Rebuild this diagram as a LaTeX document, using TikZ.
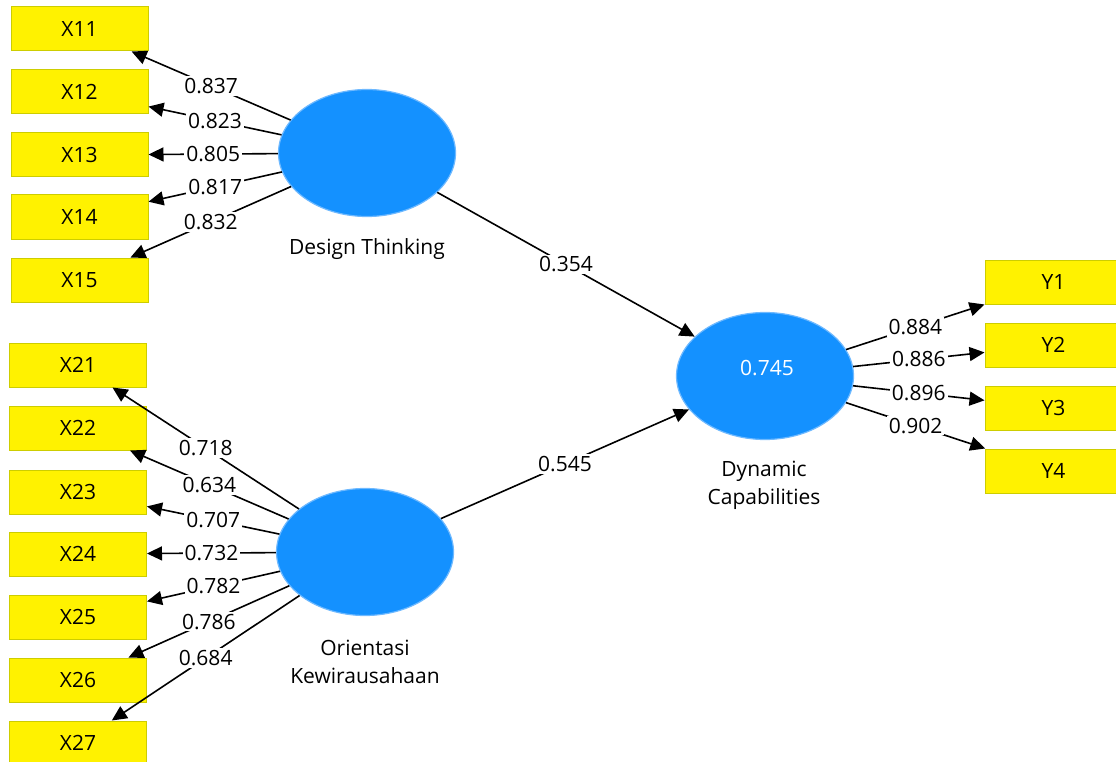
\documentclass[tikz,border=0pt]{standalone}
\usepackage{fontspec}
\setmainfont{Open Sans}
\usetikzlibrary{shapes.geometric,arrows.meta}
\definecolor{latblue}{RGB}{20,145,255}
\definecolor{latedge}{RGB}{110,185,255}
\definecolor{boxedge}{RGB}{205,205,0}
\begin{document}
\begin{tikzpicture}[x=1pt,y=-1pt,
  every node/.style={font=\fontsize{21}{28}\selectfont},
  ind/.style={draw=boxedge, fill=yellow, line width=1pt, minimum width=137pt, minimum height=44pt, inner sep=0pt},
  lat/.style={ellipse, fill=latblue, draw=latedge, line width=1.2pt, minimum width=177pt, minimum height=127pt, inner sep=0pt},
  con/.style={line width=1.6pt, -{Triangle[length=15pt,width=14pt]}},
  wt/.style={fill=white, inner sep=2pt, pos=0.5},
  lbl/.style={align=center, text=black}]
\useasboundingbox (0,0) rectangle (1116,762);
\clip (0,0) rectangle (1116,762);
% latent variables
\node[lat] (dt) at (367,153) {};
\node[lat] (ok) at (365,552) {};
\node[lat] (dc) at (765,376) {};
\node[text=white] (dcv) at (767,368) {0.745};
\node[lbl] (dtl) at (367,249) {Design Thinking};
\node[lbl] (okl) at (365,662) {Orientasi\\Kewirausahaan};
\node[lbl] (dcl) at (764,485) {Dynamic\\Capabilities};
% indicators
\node[ind] (x11) at (79.5,29) {X11};
\node[ind] (x12) at (79.5,92) {X12};
\node[ind] (x13) at (79.5,155) {X13};
\node[ind] (x14) at (79.5,217) {X14};
\node[ind] (x15) at (79.5,280) {X15};
\node[ind] (x21) at (78,365) {X21};
\node[ind] (x22) at (78,428) {X22};
\node[ind] (x23) at (78,492) {X23};
\node[ind] (x24) at (78,554) {X24};
\node[ind] (x25) at (78,617) {X25};
\node[ind] (x26) at (78,680) {X26};
\node[ind] (x27) at (78,743) {X27};
\node[ind] (y1) at (1053.5,282) {Y1};
\node[ind] (y2) at (1053.5,345) {Y2};
\node[ind] (y3) at (1053.5,408) {Y3};
\node[ind] (y4) at (1053.5,471) {Y4};
% outer loadings
\draw[con] (dt) -- node[wt]{0.837} (x11);
\draw[con] (dt) -- node[wt]{0.823} (x12);
\draw[con] (dt) -- node[wt]{0.805} (x13);
\draw[con] (dt) -- node[wt]{0.817} (x14);
\draw[con] (dt) -- node[wt]{0.832} (x15);
\draw[con] (ok) -- node[wt]{0.718} (x21);
\draw[con] (ok) -- node[wt]{0.634} (x22);
\draw[con] (ok) -- node[wt]{0.707} (x23);
\draw[con] (ok) -- node[wt]{0.732} (x24);
\draw[con] (ok) -- node[wt]{0.782} (x25);
\draw[con] (ok) -- node[wt]{0.786} (x26);
\draw[con] (ok) -- node[wt]{0.684} (x27);
\draw[con] (dc) -- node[wt]{0.884} (y1);
\draw[con] (dc) -- node[wt]{0.886} (y2);
\draw[con] (dc) -- node[wt]{0.896} (y3);
\draw[con] (dc) -- node[wt]{0.902} (y4);
% path coefficients
\draw[con] (dt) -- node[wt]{0.354} (dc);
\draw[con] (ok) -- node[wt]{0.545} (dc);
\end{tikzpicture}
\end{document}
